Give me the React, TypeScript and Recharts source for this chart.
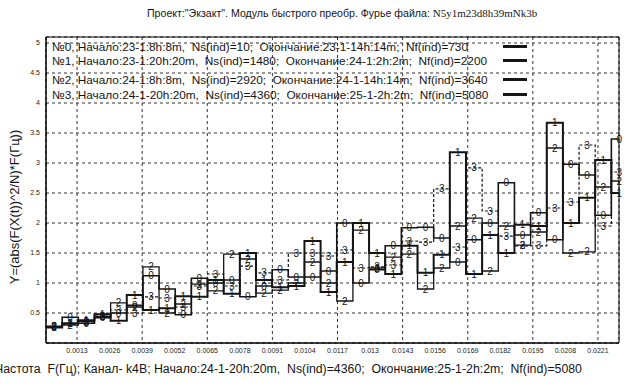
import { LineChart, Line, XAxis, YAxis, CartesianGrid, Legend, ReferenceArea } from "recharts"

// frequency of each spectrum bin (left edge, Hz)
const freq = [
  0.00006, 0.000705, 0.00135, 0.001995, 0.00264, 0.003285, 0.00393, 0.004575, 0.00522,
  0.005865, 0.00651, 0.007155, 0.0078, 0.008445, 0.00909, 0.009735, 0.01038, 0.011025,
  0.01167, 0.012315, 0.01296, 0.013605, 0.01425, 0.014895, 0.01554, 0.016185, 0.01683,
  0.017475, 0.01812, 0.018765, 0.01941, 0.020055, 0.0207, 0.021345, 0.02199, 0.022635,
]
const freqEnd = 0.02294

const s0 = [
  0.27, 0.43, 0.33, 0.42, 0.5, 0.63, 1.12, 0.9, 0.47, 1.08, 1.0, 1.05, 0.77, 0.95, 1.22, 1.1, 1.1, 1.2,
  2.0, 1.0, 1.22, 1.62, 1.92, 1.93, 1.75, 1.35, 1.72, 2.0, 2.67, 1.8, 2.17, 1.72, 2.98, 2.8, 2.13, 3.4,
]
const s1 = [
  0.26, 0.33, 0.38, 0.48, 0.37, 0.8, 0.55, 0.58, 0.78, 0.77, 1.05, 0.82, 1.5, 1.05, 0.93, 0.95, 1.7, 0.85,
  1.35, 2.0, 1.5, 1.15, 1.62, 1.17, 1.47, 3.18, 1.15, 1.8, 1.5, 1.97, 1.95, 3.67, 2.0, 2.42, 3.05, 2.5,
]
const s2 = [
  0.28, 0.3, 0.36, 0.44, 0.67, 0.6, 1.27, 0.5, 0.65, 0.98, 0.87, 1.48, 1.4, 0.83, 0.88, 1.0, 1.35, 1.0,
  0.7, 1.88, 1.25, 1.43, 1.48, 0.9, 1.25, 1.95, 2.08, 1.2, 1.95, 1.63, 1.85, 3.25, 1.5, 1.52, 2.6, 2.7,
]
const s3 = [
  0.27, 0.32, 0.35, 0.45, 0.55, 0.5, 0.77, 0.75, 0.6, 0.95, 1.15, 0.95, 1.28, 1.17, 1.05, 1.5, 1.5, 1.45,
  1.55, 1.25, 1.27, 1.3, 1.7, 1.68, 2.57, 1.6, 2.92, 2.2, 1.78, 1.62, 1.62, 2.25, 2.35, 3.3, 1.95, 2.85,
]

const xTicks = [0.0013, 0.0026, 0.0039, 0.0052, 0.0065, 0.0078, 0.0091, 0.0104, 0.0117, 0.013, 0.0143, 0.0156, 0.0169, 0.0182, 0.0195, 0.0208, 0.0221]
const xTickLabels = ["0.0013", "0.0026", "0.0039", "0.0052", "0.0065", "0.0078", "0.0091", "0.0104", "0.0117", "0.013", "0.0143", "0.0156", "0.0169", "0.0182", "0.0195", "0.0208", "0.0221"]
const yTicks = [0.5, 1, 1.5, 2, 2.5, 3, 3.5, 4, 4.5, 5]
const yTickLabels = ["0.5", "1", "1.5", "2", "2.5", "3", "3.5", "4", "4.5", "5"]

const legendRows = [
  "№0, Начало:23-1:8h:8m,  Ns(ind)=10;  Окончание:23-1-14h:14m;  Nf(ind)=730",
  "№1, Начало:23-1:20h:20m,  Ns(ind)=1480;  Окончание:24-1:2h:2m;  Nf(ind)=2200",
  "№2, Начало:24-1:8h:8m,  Ns(ind)=2920;  Окончание:24-1-14h:14m;  Nf(ind)=3640",
  "№3, Начало:24-1-20h:20m,  Ns(ind)=4360;  Окончание:25-1-2h:2m;  Nf(ind)=5080",
]
const legendTops = [2, 16, 35, 50]

const data = [
  ...freq.map((f, i) => ({ f, s0: s0[i], s1: s1[i], s2: s2[i], s3: s3[i] })),
  { f: freqEnd, s0: s0[s0.length - 1], s1: s1[s1.length - 1], s2: s2[s2.length - 1], s3: s3[s3.length - 1] },
]

const font = "'Liberation Sans', Arial, sans-serif"
const ink = "#151515"

function stepLabel(tag: string) {
  return (props: any) => {
    const { x, y, index } = props
    if (index >= freq.length || x == null || y == null) return <g key={`l${tag}${index}`} />
    return (
      <text key={`l${tag}${index}`} x={x + 8} y={y} textAnchor="middle" dominantBaseline="central" fontSize={10} fontFamily={font} fill={ink}>
        {tag}
      </text>
    )
  }
}

function LegendBox() {
  return (
    <div style={{ position: "relative", width: 560, height: 64, fontFamily: font, fontSize: 11.8, color: ink }}>
      {legendRows.map((t, i) => (
        <div key={i} style={{ position: "absolute", left: 0, top: legendTops[i], whiteSpace: "pre", lineHeight: "14px" }}>
          {t}
        </div>
      ))}
      {legendTops.map((t, i) => (
        <div key={"m" + i} style={{ position: "absolute", left: 451, top: t + 5, width: 24, height: 3, background: ink }} />
      ))}
    </div>
  )
}

export default function App() {
  return (
    <div style={{ position: "absolute", left: 0, top: 0, width: 637, height: 387, background: "#fff", overflow: "hidden" }}>
      <div style={{ position: "absolute", left: 147, top: 7, whiteSpace: "pre", fontFamily: font, fontSize: 10.6, color: ink }}>
        Проект:"Экзакт". Модуль быстрого преобр. Фурье файла:{" "}
        <span style={{ fontFamily: "'Liberation Serif', 'Times New Roman', serif", fontSize: 11 }}>N5y1m23d8h39mNk3b</span>
      </div>
      <div
        style={{
          position: "absolute", left: 14, top: 207, transform: "translate(-50%, -50%) rotate(-90deg)",
          whiteSpace: "pre", fontFamily: font, fontSize: 13, color: ink,
        }}
      >
        Y=(abs(F(X(t))^2/N)*F(Гц))
      </div>
      <div style={{ position: "absolute", left: -5, top: 362, whiteSpace: "pre", fontFamily: font, fontSize: 12.3, color: ink }}>
        Частота  F(Гц); Канал- k4B; Начало:24-1-20h:20m,  Ns(ind)=4360;  Окончание:25-1-2h:2m;  Nf(ind)=5080
      </div>
      <LineChart width={637} height={387} data={data} margin={{ top: 37, right: 18, left: 0, bottom: 0 }}>
        <CartesianGrid stroke="#333" strokeDasharray="3 3" />
        <XAxis
          dataKey="f" type="number" domain={[0.00006, freqEnd]} ticks={xTicks} allowDataOverflow
          tickFormatter={(v: number) => xTickLabels[xTicks.indexOf(v)]}
          height={44} tickLine={false} tickSize={0} tickMargin={5}
          axisLine={{ stroke: "#000" }} tick={{ fontSize: 7, fill: "#222", fontFamily: font }}
        />
        <YAxis
          type="number" domain={[0, 5.1]} ticks={yTicks} allowDataOverflow
          tickFormatter={(v: number) => yTickLabels[yTicks.indexOf(v)]}
          width={46} tickLine={false} tickSize={0} tickMargin={6}
          axisLine={{ stroke: "#000" }} tick={{ fontSize: 7, fill: "#222", fontFamily: font }}
        />
        <ReferenceArea x1={0.00006} x2={freqEnd} y1={0} y2={5.1} fill="none" stroke="#000" strokeWidth={1} />
        <Legend
          layout="horizontal" verticalAlign="middle" align="center"
          wrapperStyle={{ top: 38, left: 52, width: 560, height: 64 }}
          content={() => <LegendBox />}
        />
        <Line type="stepAfter" dataKey="s0" stroke={ink} strokeWidth={1.6} dot={false} isAnimationActive={false} label={stepLabel("0")} />
        <Line type="stepAfter" dataKey="s1" stroke={ink} strokeWidth={2} dot={false} isAnimationActive={false} label={stepLabel("1")} />
        <Line type="stepAfter" dataKey="s2" stroke={ink} strokeWidth={1.3} dot={false} isAnimationActive={false} label={stepLabel("2")} />
        <Line type="stepAfter" dataKey="s3" stroke={ink} strokeWidth={1.2} strokeDasharray="3 2" dot={false} isAnimationActive={false} label={stepLabel("3")} />
      </LineChart>
    </div>
  )
}
